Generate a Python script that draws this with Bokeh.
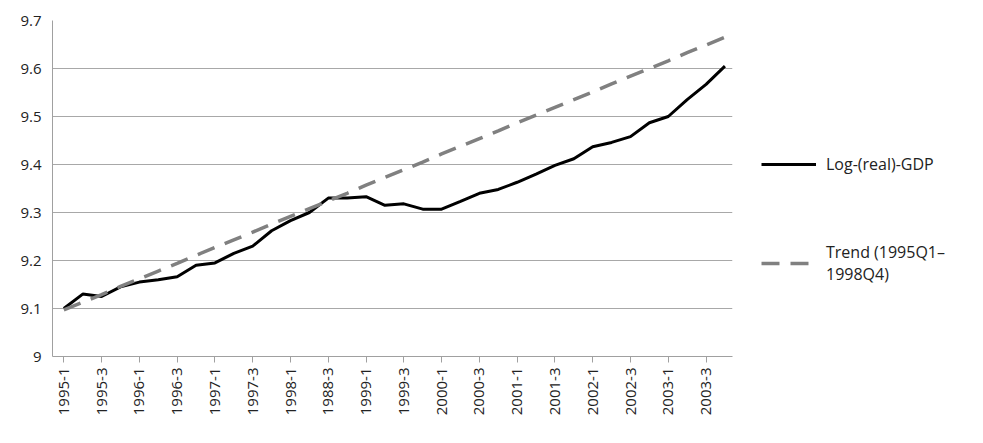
from bokeh.plotting import figure
from bokeh.models import FixedTicker, Legend, LegendItem, Range1d
from bokeh.embed import file_html
from bokeh.resources import INLINE

quarters = [f"{y}-{q}" for y in range(1995, 2004) for q in range(1, 5)]
tick_labels = ["1995-1", "1995-3", "1996-1", "1996-3", "1997-1", "1997-3", "1998-1", "1988-3",
               "1999-1", "1999-3", "2000-1", "2000-3", "2001-1", "2001-3", "2002-1", "2002-3",
               "2003-1", "2003-3"]
log_gdp = [9.100, 9.130, 9.125, 9.145, 9.155, 9.160, 9.166, 9.190, 9.195, 9.215, 9.230, 9.262,
           9.283, 9.300, 9.330, 9.330, 9.333, 9.315, 9.318, 9.307, 9.307, 9.323, 9.340, 9.348,
           9.363, 9.380, 9.398, 9.412, 9.437, 9.446, 9.458, 9.487, 9.500, 9.535, 9.567, 9.605]
trend = [9.097, 9.113, 9.129, 9.146, 9.162, 9.178, 9.194, 9.211, 9.227, 9.243, 9.259, 9.276,
         9.292, 9.308, 9.324, 9.340, 9.357, 9.373, 9.389, 9.405, 9.422, 9.438, 9.454, 9.470,
         9.487, 9.503, 9.519, 9.535, 9.551, 9.568, 9.584, 9.600, 9.616, 9.633, 9.649, 9.665]

x = list(range(len(quarters)))
font = "Open Sans"

p = figure(frame_width=680, frame_height=336, output_backend="svg", toolbar_location=None,
           x_range=Range1d(-0.6, 35.4), y_range=Range1d(9.0, 9.7),
           min_border_left=52, min_border_top=20, min_border_bottom=10, min_border_right=0)
p.outline_line_color = None
p.background_fill_color = "white"

l1 = p.line(x, log_gdp, line_color="black", line_width=3)
l2 = p.line(x, trend, line_color="#808080", line_width=3.5, line_dash="18 11")

p.xaxis.ticker = FixedTicker(ticks=list(range(0, 36, 2)))
p.xaxis.major_label_overrides = {i * 2: lab for i, lab in enumerate(tick_labels)}
p.xaxis.major_label_orientation = 1.5708
p.xaxis.axis_line_color = "#a0a0a0"
p.xaxis.major_tick_line_color = "#a0a0a0"
p.xaxis.major_tick_in = 0
p.xaxis.major_tick_out = 6
p.xaxis.minor_tick_line_color = None
p.xaxis.major_label_text_font = font
p.xaxis.major_label_text_font_size = "15px"
p.xaxis.major_label_text_color = "#222222"

p.yaxis.ticker = FixedTicker(ticks=[9.0, 9.1, 9.2, 9.3, 9.4, 9.5, 9.6, 9.7])
p.yaxis.major_label_overrides = {9.0: "9"}
p.yaxis.axis_line_color = "#a0a0a0"
p.yaxis.major_tick_line_color = None
p.yaxis.minor_tick_line_color = None
p.yaxis.major_label_text_font = font
p.yaxis.major_label_text_font_size = "15px"
p.yaxis.major_label_text_color = "#222222"

p.xgrid.grid_line_color = None
p.ygrid.grid_line_color = "#a8a8a8"

legend = Legend(items=[LegendItem(label="Log-(real)-GDP", renderers=[l1]),
                       LegendItem(label="Trend (1995Q1–\n1998Q4)", renderers=[l2])],
                location=(29, 71), spacing=66, glyph_width=55, label_standoff=10,
                border_line_color=None, background_fill_alpha=0,
                label_text_font=font, label_text_font_size="16px", label_text_color="#222222")
p.add_layout(legend, "right")

open("out.html", "w").write(file_html(p, INLINE))
